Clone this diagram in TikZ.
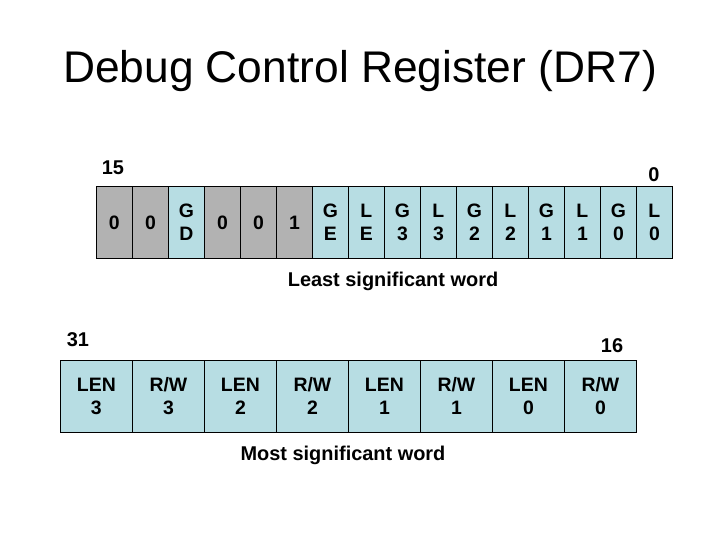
\documentclass[tikz,border=0pt]{standalone}
\usepackage{fontspec}
\setmainfont{Liberation Sans}
\definecolor{cellgray}{HTML}{B2B2B2}
\definecolor{cellblue}{HTML}{B7DDE3}
\begin{document}
\begin{tikzpicture}[x=1bp,y=-1bp,
  cell/.style={draw=black,line width=0.8bp,minimum width=36bp,minimum height=72bp,inner sep=0pt,align=center,
    font=\fontsize{19.5}{23}\selectfont\bfseries,anchor=north west},
  wcell/.style={cell,minimum width=72bp},
  gcell/.style={fill=cellgray},
  bcell/.style={fill=cellblue},
  lbl/.style={font=\fontsize{20}{24}\selectfont\bfseries,inner sep=0pt}]
\useasboundingbox (0,0) rectangle (720,540);
\node[font=\fontsize{44.5}{52}\selectfont,inner sep=0pt] (title) at (360,71) {Debug Control Register (DR7)};
% top row
\foreach \i/\t/\s in {0/0/gcell,1/0/gcell,2/{G\\D}/bcell,3/0/gcell,4/0/gcell,5/1/gcell,
  6/{G\\E}/bcell,7/{L\\E}/bcell,8/{G\\3}/bcell,9/{L\\3}/bcell,10/{G\\2}/bcell,11/{L\\2}/bcell,
  12/{G\\1}/bcell,13/{L\\1}/bcell,14/{G\\0}/bcell,15/{L\\0}/bcell}
  \node[cell,\s] (t\i) at (96+36*\i,186) {\t};
\node[lbl] (n15) at (113,168) {15};
\node[lbl] (n0) at (654,175) {0};
\node[lbl] (lsw) at (393,281) {Least significant word};
% bottom row
\foreach \i/\t in {0/{LEN\\3},1/{R/W\\3},2/{LEN\\2},3/{R/W\\2},4/{LEN\\1},5/{R/W\\1},6/{LEN\\0},7/{R/W\\0}}
  \node[wcell,bcell] (b\i) at (60+72*\i,360) {\t};
\node[lbl] (n31) at (78,340) {31};
\node[lbl] (n16) at (612,346) {16};
\node[lbl] (msw) at (343,455) {Most significant word};
\end{tikzpicture}
\end{document}
